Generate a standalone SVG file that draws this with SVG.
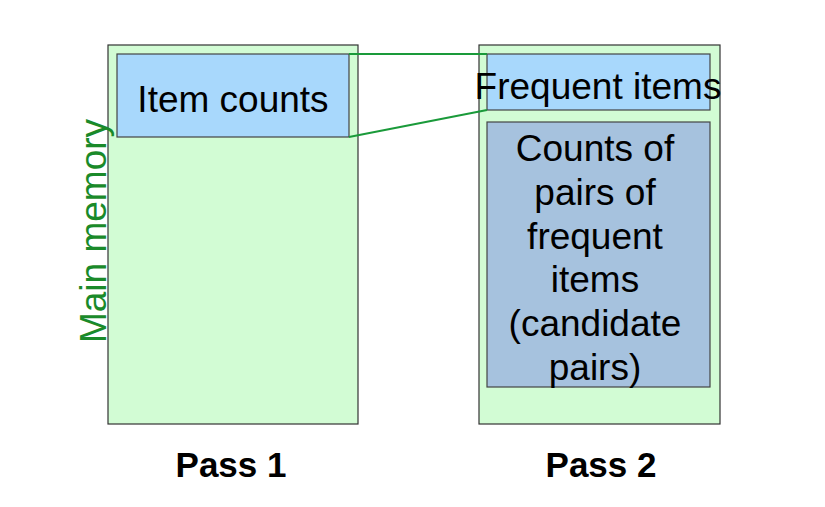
<svg xmlns="http://www.w3.org/2000/svg" width="825" height="507" viewBox="0 0 825 507">
<style>
.outer{fill:#d2fcd4;stroke:#333;stroke-width:1.2}
.blue{fill:#a8d8fc;stroke:#444;stroke-width:1.2}
.grey{fill:#a6c2de;stroke:#444;stroke-width:1.2}
.t{font-family:"Liberation Sans",Arial,sans-serif;font-size:37px;fill:#000;text-anchor:middle}
.b{font-family:"Liberation Sans",Arial,sans-serif;font-size:35px;font-weight:bold;fill:#000;text-anchor:middle}
.conn{stroke:#1a9a3a;stroke-width:2;fill:none}
</style>
<rect width="825" height="507" fill="#fff"/>
<g id="pass1">
<rect class="outer" x="108" y="45" width="250" height="379"/>
<text class="b" x="231" y="477">Pass 1</text>
</g>
<g id="pass2">
<rect class="outer" x="479" y="45" width="241" height="379"/>
<text class="b" x="601" y="477">Pass 2</text>
</g>
<g id="item-counts">
<rect class="blue" x="117" y="54" width="232" height="83"/>
<text class="t" x="233" y="112">Item counts</text>
</g>
<g id="frequent-items">
<rect class="blue" x="487" y="54" width="223" height="56"/>
<text class="t" x="598" y="99">Frequent items</text>
</g>
<g id="candidate-pairs">
<rect class="grey" x="487" y="122" width="223" height="265"/>
<text class="t" x="595" y="161">Counts of</text>
<text class="t" x="595" y="205">pairs of</text>
<text class="t" x="595" y="249">frequent</text>
<text class="t" x="595" y="292">items</text>
<text class="t" x="595" y="336">(candidate</text>
<text class="t" x="595" y="380">pairs)</text>
</g>
<g id="main-memory">
<text class="t" x="0" y="0" transform="translate(106,231) rotate(-90)" style="fill:#1a8a2a">Main memory</text>
</g>
<g id="connectors">
<line class="conn" x1="349" y1="54" x2="487" y2="54"/>
<line class="conn" x1="349" y1="137" x2="487" y2="110"/>
</g>
</svg>
